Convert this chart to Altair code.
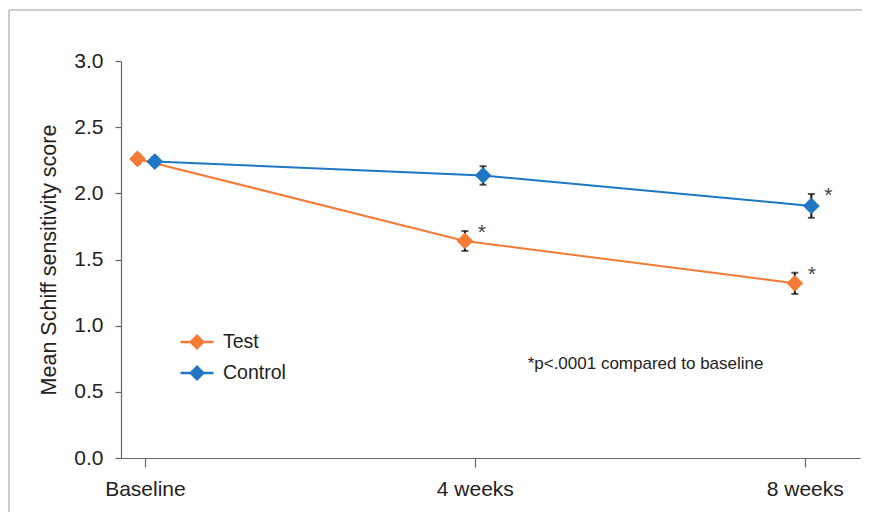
import altair as alt
import pandas as pd

# ---- data ----
series = ["Test", "Control"]
colors = ["#F47B35", "#1F77C4"]
time_labels = ["Baseline", "4 weeks", "8 weeks"]
time_weeks = [0, 4, 8]
test_x = [-0.09, 3.88, 7.88]
control_x = [0.12, 4.10, 8.08]
test_mean = [2.26, 1.64, 1.32]
test_err = [0.035, 0.075, 0.08]
control_mean = [2.24, 2.135, 1.905]
control_err = [0.03, 0.07, 0.09]
test_sig = [False, True, True]
control_sig = [False, False, True]
note_text = ["*p<.0001 compared to baseline"]
note_x = [6.07]
note_y = [0.71]

rows = []
for name, xs, ms, es, sg in [("Test", test_x, test_mean, test_err, test_sig),
                             ("Control", control_x, control_mean, control_err, control_sig)]:
    for t, x, m, e, s in zip(time_labels, xs, ms, es, sg):
        rows.append({"series": name, "time": t, "x": x, "mean": m,
                     "lo": m - e, "hi": m + e, "sig": "*" if s else ""})
df = pd.DataFrame(rows)
notes = pd.DataFrame({"text": note_text, "x": note_x, "y": note_y})

FONT = "Liberation Sans"
AXC = "#666666"

xscale = alt.Scale(domain=[-0.29, 8.67], nice=False, zero=False)
yscale = alt.Scale(domain=[0, 3], nice=False)
cscale = alt.Scale(domain=series, range=colors)

xaxis = alt.Axis(values=time_weeks, title=None, grid=False,
                 labelExpr="datum.value == 0 ? 'Baseline' : datum.value + ' weeks'",
                 labelFont=FONT, labelFontSize=21, labelColor="#222", labelPadding=11,
                 tickSize=9, tickColor=AXC, domainColor=AXC, tickWidth=1.2, domainWidth=1.2)
yaxis = alt.Axis(values=[0, 0.5, 1, 1.5, 2, 2.5, 3], format=".1f", grid=False,
                 title="Mean Schiff sensitivity score", titleFont=FONT, titleFontSize=21.5,
                 titleFontWeight="normal", titleColor="#222", titlePadding=13,
                 labelFont=FONT, labelFontSize=21, labelColor="#222", labelPadding=12,
                 tickSize=6, tickColor=AXC, domainColor=AXC, tickWidth=1.2, domainWidth=1.2)

base = alt.Chart(df)

X = alt.X("x:Q", scale=xscale, axis=xaxis)
Y = alt.Y("mean:Q", scale=yscale, axis=yaxis)

# legend symbol: a short line with a filled diamond (nested outlines fill it)
legend_path = ("M-1,0L1,0"
               "M-0.38,0L0,-0.38L0.38,0L0,0.38Z"
               "M-0.26,0L0,-0.26L0.26,0L0,0.26Z"
               "M-0.13,0L0,-0.13L0.13,0L0,0.13Z")

lines = base.mark_line(strokeWidth=2).encode(
    x=X, y=Y, detail="series:N",
    stroke=alt.Stroke("series:N", scale=cscale,
                      legend=alt.Legend(title=None, orient="none", legendX=58, legendY=263,
                                        symbolType=legend_path, symbolSize=1089,
                                        symbolStrokeWidth=2.4,
                                        labelFont=FONT, labelFontSize=19.5,
                                        labelColor="#222", labelOffset=8, rowPadding=1,
                                        padding=0)))

bars = base.mark_rule(color="#111", strokeWidth=2).encode(
    x=alt.X("x:Q", scale=xscale), y=alt.Y("lo:Q", scale=yscale), y2="hi:Q")

cap_lo = base.mark_tick(color="#111", orient="horizontal", size=7, thickness=2).encode(
    x=alt.X("x:Q", scale=xscale), y=alt.Y("lo:Q", scale=yscale))
cap_hi = base.mark_tick(color="#111", orient="horizontal", size=7, thickness=2).encode(
    x=alt.X("x:Q", scale=xscale), y=alt.Y("hi:Q", scale=yscale))

points = base.mark_point(shape="diamond", filled=True, size=280, opacity=1).encode(
    x=alt.X("x:Q", scale=xscale), y=alt.Y("mean:Q", scale=yscale),
    fill=alt.Fill("series:N", scale=cscale, legend=None))

stars = base.mark_text(text="*", fontSize=21, font=FONT, color="#444",
                       dx=17, dy=2).transform_filter("datum.sig == '*'").encode(
    x=alt.X("x:Q", scale=xscale), y=alt.Y("hi:Q", scale=yscale))

note = alt.Chart(notes).mark_text(font=FONT, fontSize=17, color="#222").encode(
    x=alt.X("x:Q", scale=xscale), y=alt.Y("y:Q", scale=yscale), text="text:N")

one = pd.DataFrame({"a": [0]})
frame_top = alt.Chart(one).mark_rule(color="#bdbdbd", strokeWidth=1.5).encode(
    x=alt.value(-112), x2=alt.value(900), y=alt.value(-51))
frame_left = alt.Chart(one).mark_rule(color="#bdbdbd", strokeWidth=1.5).encode(
    x=alt.value(-112), y=alt.value(-51), y2=alt.value(600))

chart = alt.layer(frame_top, frame_left, lines, bars, cap_lo, cap_hi, points, stars,
                  note).properties(
    width=739, height=397,
    autosize=alt.AutoSizeParams(type="none"),
    padding={"left": 113, "top": 53, "right": 2, "bottom": 54},
    background="white",
).configure_view(strokeWidth=0)

chart.save("out.html", embed_options={"renderer": "svg", "actions": False})
